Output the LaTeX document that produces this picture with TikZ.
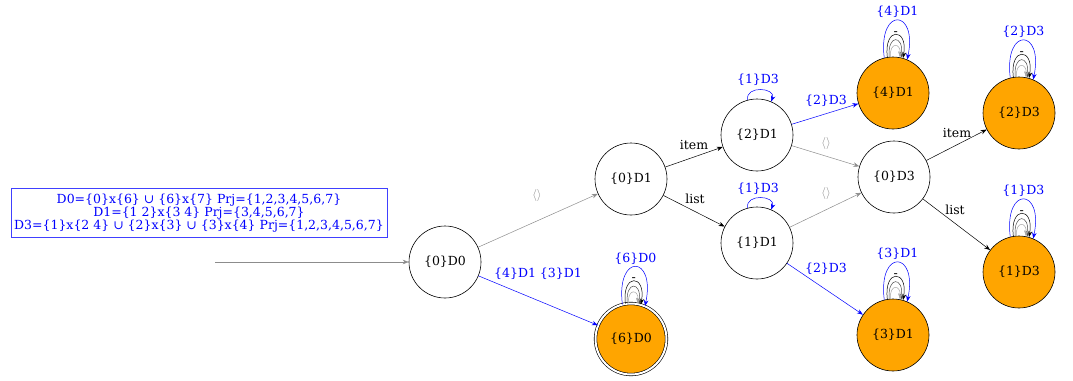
\documentclass[tikz,border=0pt]{standalone}
\usepackage{fontspec}
\setmainfont{DejaVu Serif}
\usetikzlibrary{arrows.meta}
\definecolor{gvorange}{HTML}{FFA500}
\definecolor{edgegray}{gray}{0.55}
\definecolor{boxblue}{HTML}{4040FF}
\newcommand\lbl{\fontsize{12.5}{13}\selectfont}
\tikzset{
  st/.style={circle,draw,line width=0.6pt,minimum size=72pt,inner sep=0pt,font=\lbl},
  acc/.style={st,fill=gvorange},
  lab/.style={font=\lbl,inner sep=1pt},
  arr/.style={-{Stealth[length=6pt,width=4.5pt]},line width=0.5pt},
  blueedge/.style={arr,blue},
  grayedge/.style={arr,edgegray},
  blackedge/.style={arr,black},
}
% nested self-loops on an accepting state: #1 node, #2 label
% (y axis points down, so polar angles are negated)
\newcommand\accloops[2]{%
  \draw[blueedge] (#1.104) .. controls +(-97:52) and +(-78:52) .. (#1.67)
     node[pos=0.5,above,lab,text=blue,inner sep=2pt] {#2};
  \draw[blackedge] (#1.99) .. controls +(-97:31) and +(-80:31) .. (#1.74)
     node[pos=0.5,above,lab,inner sep=0pt,yshift=-1pt] {-};
  \draw[arr,black!70] (#1.96) .. controls +(-95:23) and +(-84:23) .. (#1.77);
  \draw[arr,black!35] (#1.94) .. controls +(-95:15) and +(-86:15) .. (#1.79);
}
\begin{document}
\begin{tikzpicture}[x=1pt,y=-1pt]
\useasboundingbox (0,0) rectangle (1073,380);

\node[draw=boxblue,line width=0.6pt,text=blue,align=center,font=\lbl,
      minimum width=376pt,minimum height=49pt,inner sep=2pt] (legend) at (199,213)
  {D0=\{0\}x\{6\} ∪ \{6\}x\{7\} Prj=\{1,2,3,4,5,6,7\}\\
   D1=\{1 2\}x\{3 4\} Prj=\{3,4,5,6,7\}\\
   D3=\{1\}x\{2 4\} ∪ \{2\}x\{3\} ∪ \{3\}x\{4\} Prj=\{1,2,3,4,5,6,7\}};

\node[st] (d00) at (445,262) {\{0\}D0};
\node[st] (d01) at (631,179) {\{0\}D1};
\node[st] (d21) at (757,135) {\{2\}D1};
\node[st] (d11) at (757,243) {\{1\}D1};
\node[st] (d03) at (894,177) {\{0\}D3};
\node[acc] (d41) at (893,93) {\{4\}D1};
\node[acc] (d23) at (1019,113) {\{2\}D3};
\node[acc] (d13) at (1019,272) {\{1\}D3};
\node[acc] (d31) at (893,335) {\{3\}D1};
\node[acc,double,double distance=2pt,minimum size=71pt] (d60) at (631,339) {\{6\}D0};

\coordinate (init) at (215,262);
\draw[grayedge] (init) -- (d00);

\draw[grayedge] (d00) -- (d01);
\node[lab,text=edgegray] (l1) at (537,195) {$\langle\rangle$};
\draw[blueedge] (d00) -- (d60);
\node[lab,text=blue] (l2) at (538,274) {\{4\}D1 \{3\}D1};

\draw[blackedge] (d01) -- (d21);
\node[lab] (l3) at (694,145) {item};
\draw[blackedge] (d01) -- (d11);
\node[lab] (l4) at (695,199) {list};

\draw[blueedge] (d21.105) .. controls +(-100:15) and +(-70:15) .. (d21.67);
\node[lab,text=blue] (l5) at (758,80) {\{1\}D3};
\draw[blueedge] (d11.105) .. controls +(-100:15) and +(-70:15) .. (d11.67);
\node[lab,text=blue] (l6) at (758,189) {\{1\}D3};

\draw[blueedge] (d21) -- (d41);
\node[lab,text=blue] (l7) at (826,101) {\{2\}D3};
\draw[grayedge] (d21) -- (d03);
\node[lab,text=edgegray] (l8) at (826,143) {$\langle\rangle$};
\draw[grayedge] (d11) -- (d03);
\node[lab,text=edgegray] (l9) at (826,193) {$\langle\rangle$};
\draw[blueedge] (d11) -- (d31);
\node[lab,text=blue] (l10) at (826,269) {\{2\}D3};

\draw[blackedge] (d03) -- (d23);
\node[lab] (l11) at (957,133) {item};
\draw[blackedge] (d03) -- (d13);
\node[lab] (l12) at (955,210) {list};

\accloops{d41}{\{4\}D1}
\accloops{d23}{\{2\}D3}
\accloops{d13}{\{1\}D3}
\accloops{d31}{\{3\}D1}
\accloops{d60}{\{6\}D0}
\end{tikzpicture}
\end{document}
